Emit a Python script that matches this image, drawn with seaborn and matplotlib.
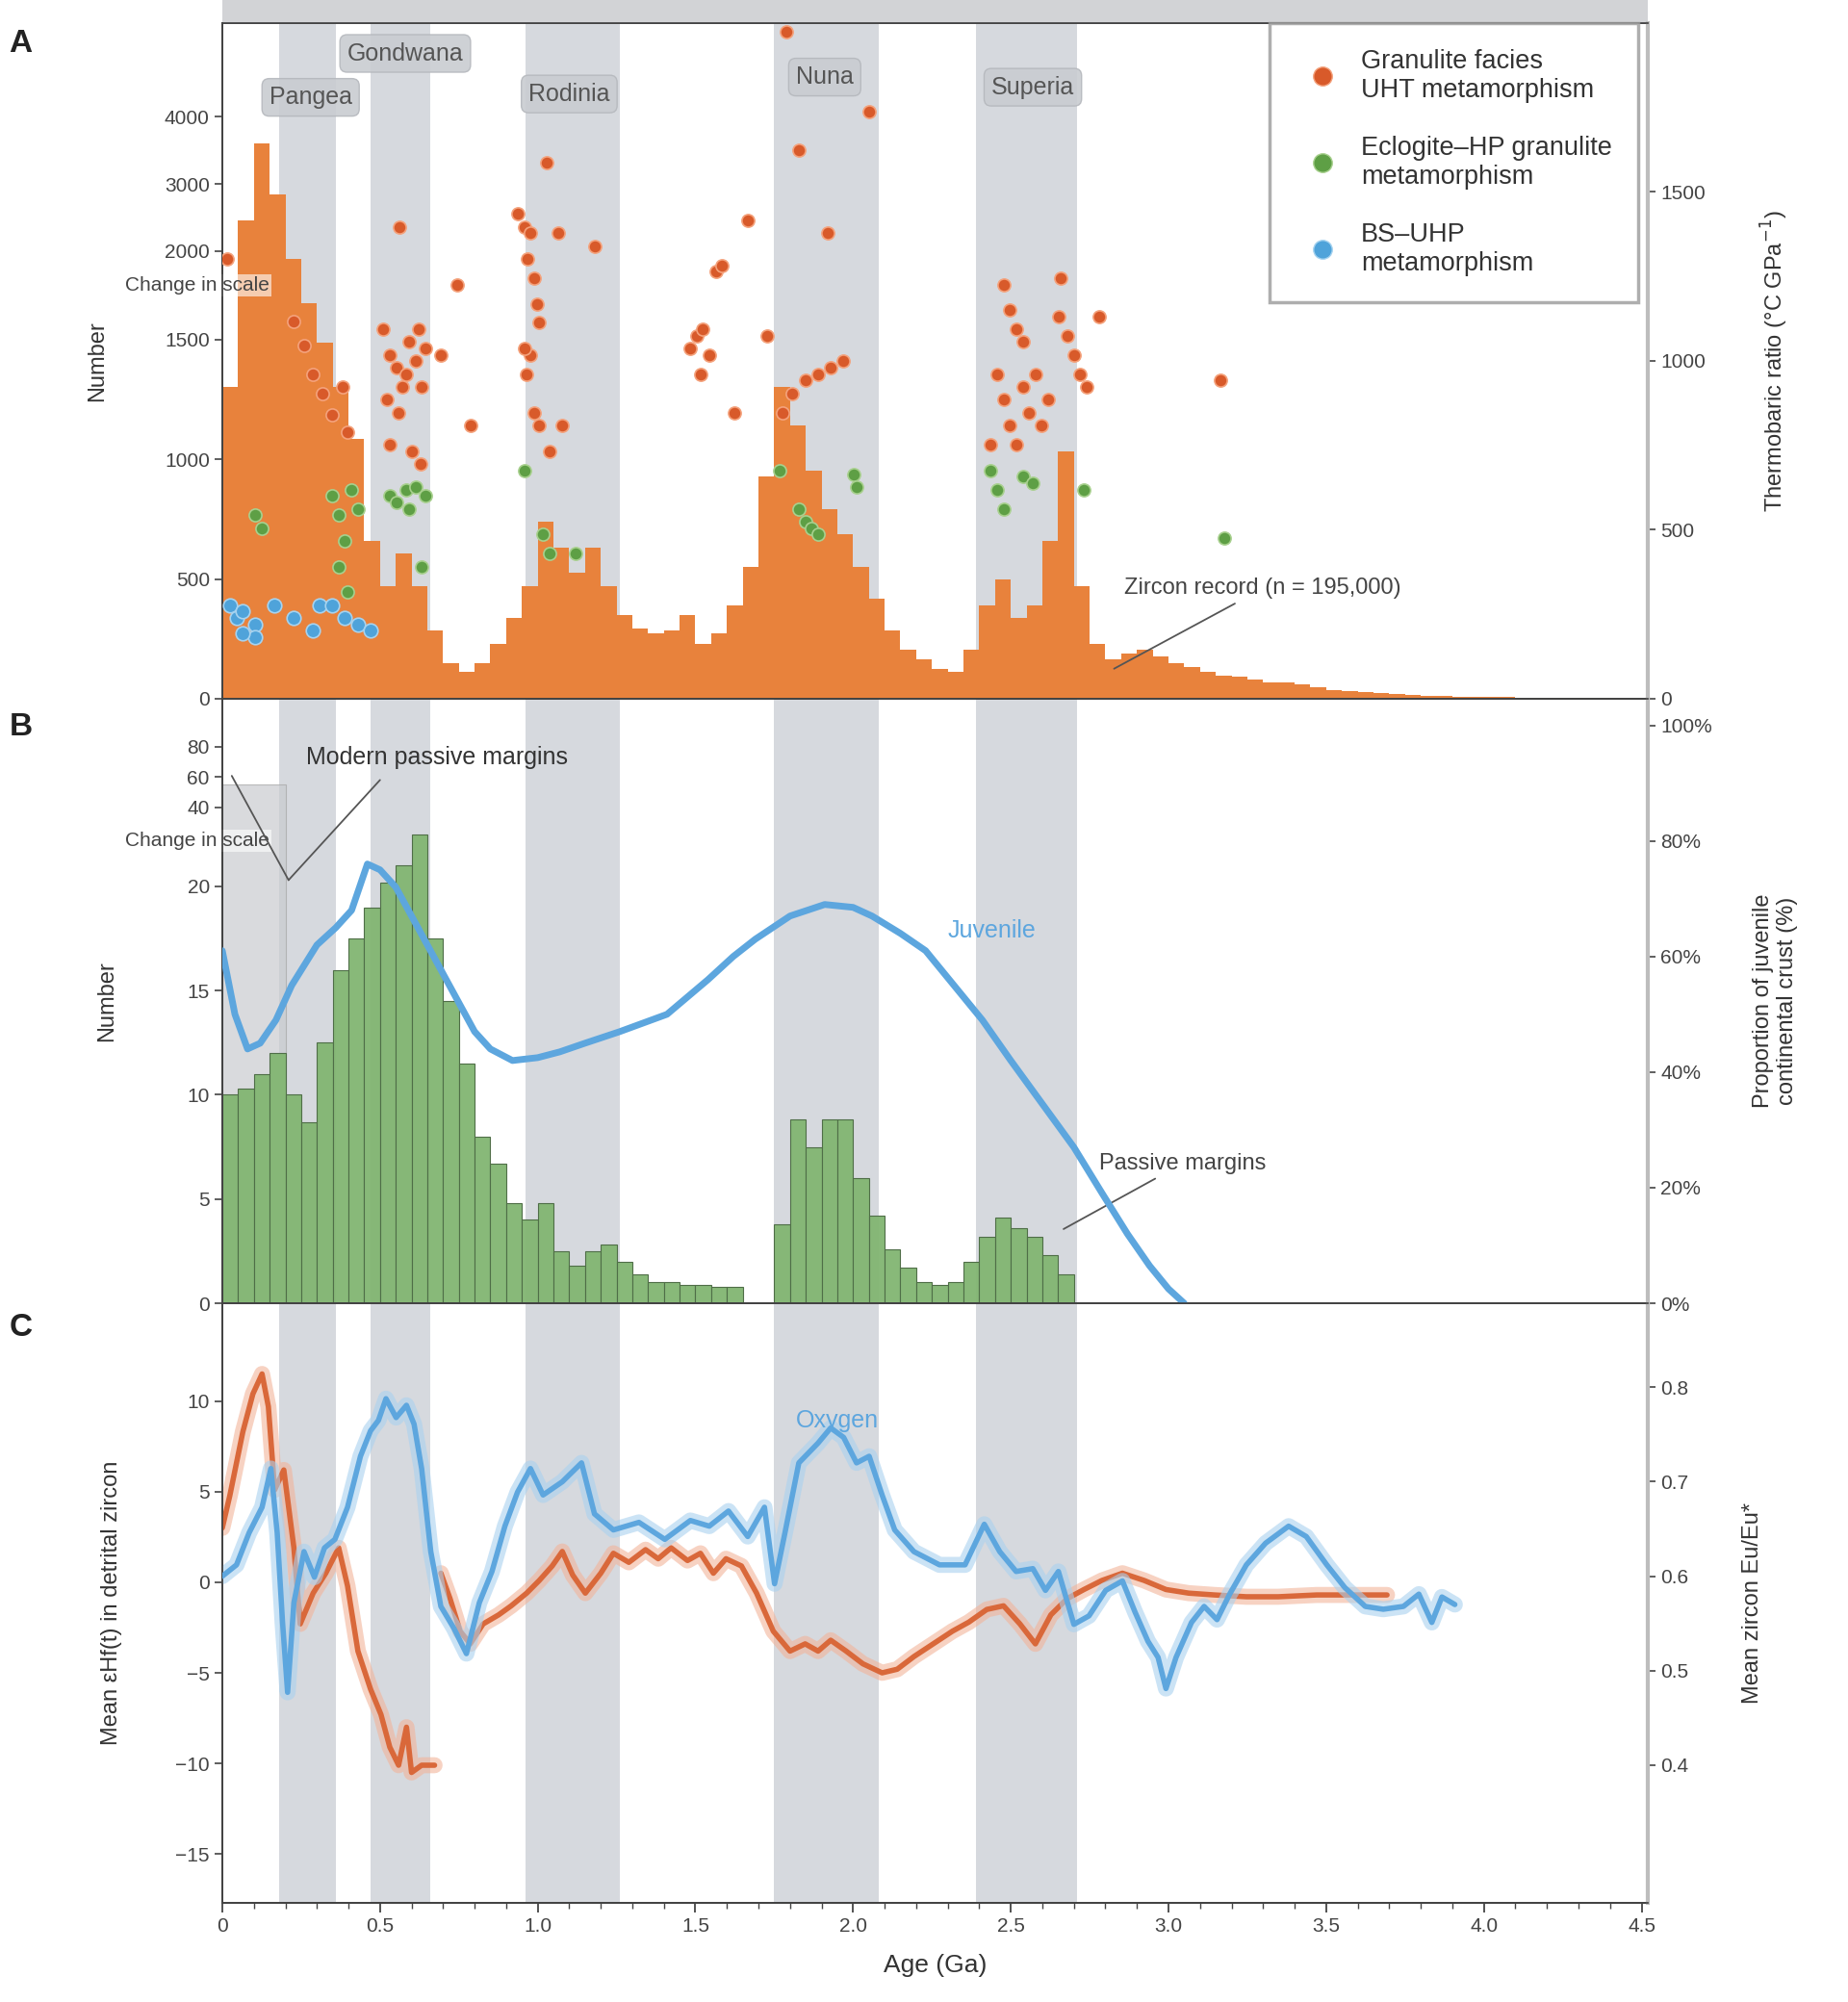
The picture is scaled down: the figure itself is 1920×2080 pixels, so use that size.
import numpy as np
import pandas as pd
import matplotlib
matplotlib.use("Agg")
import matplotlib.pyplot as plt
import seaborn as sns
from matplotlib.lines import Line2D
from matplotlib.ticker import MultipleLocator, FixedLocator, FixedFormatter

# ---------------- DATA ----------------
age_edges_A = np.round(np.arange(0, 4.5001, 0.05), 3)
zircon_counts = [1302, 2457, 3607, 2840, 1955, 1703, 1489, 1302, 1087, 659,
                 471, 605, 471, 284, 150, 112, 150, 230, 337, 471,
                 739, 632, 525, 632, 471, 348, 295, 273, 284, 348,
                 230, 273, 391, 552, 927, 1302, 1141, 954, 793, 686,
                 552, 418, 284, 204, 166, 123, 112, 204, 391, 498,
                 337, 391, 659, 1034, 471, 230, 166, 187, 204, 177,
                 150, 134, 112, 96, 91, 80, 70, 70, 59, 48,
                 37, 32, 27, 22, 18, 15, 12, 10, 9, 8,
                 7, 6, 5, 4, 3, 3, 2, 2, 1, 1]

gran_age = [0.016, 0.227, 0.259, 0.288, 0.316, 0.349, 0.381, 0.397, 0.511, 0.531, 0.551, 0.572,
            0.592, 0.612, 0.632, 0.523, 0.559, 0.584, 0.624, 0.645, 0.531, 0.563, 0.600, 0.628,
            0.693, 0.746, 0.786, 0.936, 0.957, 0.977, 0.969, 0.989, 0.997, 1.005, 0.977, 0.965,
            0.989, 1.005, 1.030, 1.066, 0.957, 1.180, 1.078, 1.038, 1.484, 1.504, 1.524, 1.544,
            1.516, 1.565, 1.585, 1.625, 1.727, 1.666, 1.788, 1.828, 1.921, 2.051, 1.775, 1.808,
            1.848, 1.889, 1.929, 1.970, 2.477, 2.497, 2.517, 2.538, 2.456, 2.477, 2.497, 2.538,
            2.558, 2.578, 2.659, 2.651, 2.679, 2.700, 2.720, 2.740, 2.619, 2.598, 2.781, 2.436,
            2.517, 3.166]
gran_tp = [1302, 1116, 1044, 961, 904, 839, 923, 790, 1094, 1018, 980, 923,
           1056, 999, 923, 885, 847, 961, 1094, 1037, 752, 1397, 733, 695,
           1018, 1226, 809, 1435, 1397, 1378, 1302, 1245, 1169, 1113, 1018, 961,
           847, 809, 1587, 1378, 1037, 1340, 809, 733, 1037, 1075, 1094, 1018,
           961, 1264, 1283, 847, 1075, 1416, 1975, 1625, 1378, 1739, 847, 904,
           942, 961, 980, 999, 1226, 1150, 1094, 1056, 961, 885, 809, 923,
           847, 961, 1245, 1132, 1075, 1018, 961, 923, 885, 809, 1132, 752,
           752, 942]

eclo_age = [0.105, 0.126, 0.349, 0.369, 0.389, 0.409, 0.430, 0.369, 0.397, 0.531, 0.551, 0.584,
            0.612, 0.645, 0.592, 0.632, 0.957, 1.017, 1.038, 1.119, 1.767, 1.828, 1.848, 1.869,
            1.889, 2.002, 2.011, 2.436, 2.456, 2.538, 2.570, 2.477, 2.732, 3.178]
eclo_tp = [543, 505, 600, 543, 467, 619, 562, 391, 315, 600, 581, 619,
           627, 600, 562, 391, 676, 486, 429, 429, 676, 562, 524, 505,
           486, 664, 627, 676, 619, 657, 638, 562, 619, 475]

uhp_age = [0.024, 0.045, 0.065, 0.105, 0.166, 0.227, 0.288, 0.308, 0.349, 0.389, 0.430, 0.470,
           0.105, 0.065]
uhp_tp = [277, 239, 258, 220, 277, 239, 201, 277, 277, 239, 220, 201, 182, 194]

age_edges_B = np.round(np.arange(0, 2.7001, 0.05), 3)
margin_counts = [10.0, 10.3, 11.0, 12.0, 10.0, 8.7, 12.5, 16.0, 17.5, 19.0,
                 20.2, 21.0, 22.5, 17.5, 14.5, 11.5, 8.0, 6.7, 4.8, 4.0,
                 4.8, 2.5, 1.8, 2.5, 2.8, 2.0, 1.4, 1.0, 1.0, 0.9,
                 0.9, 0.8, 0.8, 0.0, 0.0, 3.8, 8.8, 7.5, 8.8, 8.8,
                 6.0, 4.2, 2.6, 1.7, 1.0, 0.9, 1.0, 2.0, 3.2, 4.1,
                 3.6, 3.2, 2.3, 1.4]
modern_bar_height = 24.9

juv_age = [0.0, 0.04, 0.08, 0.12, 0.17, 0.22, 0.30, 0.36, 0.41, 0.46, 0.50, 0.55, 0.60, 0.65,
           0.70, 0.75, 0.80, 0.85, 0.92, 1.00, 1.07, 1.15, 1.26, 1.41, 1.54, 1.62, 1.69, 1.80,
           1.91, 2.00, 2.06, 2.15, 2.23, 2.32, 2.41, 2.50, 2.60, 2.70, 2.79, 2.87, 2.94, 3.00, 3.05]
juv_pct = [61, 50, 44, 45, 49, 55, 62, 65, 68, 76, 75, 72, 67, 62,
           57, 52, 47, 44, 42, 42.5, 43.5, 45, 47, 50, 56, 60, 63, 67,
           69, 68.5, 67, 64, 61, 55, 49, 42, 34.5, 27, 19, 12, 6.5, 2.5, 0]

hf1_age = [0.0, 0.024, 0.065, 0.097, 0.126, 0.146, 0.166, 0.195, 0.227, 0.247, 0.288, 0.328,
           0.369, 0.397, 0.430, 0.470, 0.503, 0.531, 0.559, 0.584, 0.600, 0.632, 0.673]
hf1_val = [3.0, 4.8, 8.3, 10.4, 11.5, 9.7, 5.1, 6.2, 1.9, -2.3, -0.6, 0.5,
           1.9, -0.2, -3.8, -5.9, -7.3, -9.1, -10.1, -8.0, -10.5, -10.1, -10.1]
hf2_age = [0.693, 0.722, 0.754, 0.786, 0.827, 0.876, 0.916, 0.965, 1.005, 1.046, 1.078, 1.111,
           1.151, 1.200, 1.240, 1.289, 1.342, 1.382, 1.423, 1.475, 1.516, 1.557, 1.597, 1.646,
           1.694, 1.747, 1.800, 1.848, 1.889, 1.929, 1.978, 2.031, 2.092, 2.140, 2.193, 2.254,
           2.315, 2.367, 2.424, 2.477, 2.529, 2.578, 2.627, 2.679, 2.732, 2.789, 2.854, 2.923,
           2.992, 3.064, 3.146, 3.247, 3.348, 3.470, 3.591, 3.693]
hf2_val = [0.5, -0.9, -2.7, -3.4, -2.3, -1.8, -1.3, -0.6, 0.1, 0.9, 1.7, 0.4,
           -0.6, 0.5, 1.6, 1.1, 1.8, 1.3, 1.9, 1.2, 1.6, 0.5, 1.3, 0.9,
           -0.6, -2.7, -3.8, -3.4, -3.8, -3.2, -3.8, -4.5, -5.0, -4.8, -4.1, -3.4,
           -2.7, -2.2, -1.5, -1.3, -2.3, -3.4, -1.8, -0.9, -0.4, 0.1, 0.5, 0.1,
           -0.4, -0.6, -0.7, -0.8, -0.8, -0.7, -0.7, -0.7]

ox_age = [0.0, 0.045, 0.085, 0.126, 0.154, 0.174, 0.191, 0.207, 0.227, 0.259, 0.292, 0.324,
          0.357, 0.397, 0.438, 0.470, 0.495, 0.519, 0.551, 0.584, 0.608, 0.632, 0.661, 0.693,
          0.734, 0.774, 0.815, 0.855, 0.896, 0.936, 0.977, 1.017, 1.078, 1.139, 1.180, 1.240,
          1.321, 1.403, 1.484, 1.544, 1.605, 1.666, 1.719, 1.751, 1.784, 1.828, 1.889, 1.929,
          1.970, 2.011, 2.051, 2.092, 2.132, 2.193, 2.274, 2.355, 2.416, 2.465, 2.517, 2.570,
          2.610, 2.651, 2.700, 2.748, 2.801, 2.854, 2.894, 2.935, 2.967, 2.992, 3.024, 3.073,
          3.113, 3.154, 3.194, 3.247, 3.308, 3.381, 3.437, 3.502, 3.559, 3.624, 3.681, 3.745,
          3.794, 3.835, 3.867, 3.908]
ox_val = [0.600, 0.612, 0.646, 0.673, 0.714, 0.646, 0.551, 0.477, 0.572, 0.626, 0.599, 0.630,
          0.639, 0.673, 0.727, 0.754, 0.765, 0.788, 0.768, 0.781, 0.761, 0.714, 0.626, 0.568,
          0.545, 0.518, 0.572, 0.605, 0.653, 0.689, 0.714, 0.686, 0.700, 0.720, 0.666, 0.649,
          0.657, 0.639, 0.659, 0.653, 0.669, 0.642, 0.673, 0.592, 0.646, 0.720, 0.741, 0.757,
          0.747, 0.720, 0.727, 0.686, 0.649, 0.626, 0.612, 0.612, 0.655, 0.626, 0.605, 0.608,
          0.585, 0.605, 0.549, 0.558, 0.585, 0.595, 0.562, 0.531, 0.514, 0.481, 0.514, 0.551,
          0.568, 0.554, 0.581, 0.612, 0.635, 0.653, 0.642, 0.612, 0.588, 0.568, 0.565, 0.568,
          0.581, 0.551, 0.578, 0.570]

bands = [(0.18, 0.36), (0.47, 0.66), (0.96, 1.26), (1.75, 2.08), (2.39, 2.71)]
sc_names = ["Pangea", "Gondwana", "Rodinia", "Nuna", "Superia"]
sc_x = [0.28, 0.58, 1.10, 1.91, 2.57]
sc_yfrac = [0.89, 0.955, 0.895, 0.92, 0.905]

xtick_vals = [0, 0.5, 1.0, 1.5, 2.0, 2.5, 3.0, 3.5, 4.0, 4.5]
xtick_labels = ["0", "0.5", "1.0", "1.5", "2.0", "2.5", "3.0", "3.5", "4.0", "4.5"]
A_left_ticks = [0, 500, 1000, 1500, 2000, 3000, 4000]
A_right_ticks = [0, 500, 1000, 1500]
B_left_ticks = [0, 5, 10, 15, 20, 40, 60, 80]
B_right_ticks = [0, 20, 40, 60, 80, 100]
C_left_ticks = [-15, -10, -5, 0, 5, 10]
C_right_ticks = [0.4, 0.5, 0.6, 0.7, 0.8]

# ---------------- STYLE ----------------
sns.set_theme(style="white")
plt.rcParams['font.family'] = ['Liberation Sans', 'DejaVu Sans']
plt.rcParams['axes.edgecolor'] = '#444444'
plt.rcParams['xtick.color'] = '#444444'
plt.rcParams['ytick.color'] = '#444444'
plt.rcParams['text.color'] = '#333333'
plt.rcParams['axes.labelcolor'] = '#333333'

ORANGE = '#E8823C'
RED = '#D85A2A'
GREEN = '#5E9F45'
GBAR = '#82B672'
BLUE = '#4FA3DA'
BLINE = '#5DA6DE'
OLINE = '#D9683A'
BAND = '#D6D9DE'
TS = 15


def tfA(c):
    c = np.asarray(c, dtype=float)
    return np.where(c <= 1500, c,
                    np.where(c <= 2000, 1500 + (c - 1500) * 0.74, 1870 + (c - 2000) * 0.28))


def tfB(c):
    c = np.asarray(c, dtype=float)
    return np.where(c <= 23, c, 23.8 + (c - 40) * 0.0725)


fig = plt.figure(figsize=(19.2, 20.8), dpi=100)
L, W = 0.1203, 0.7714
axA = fig.add_axes([L, 0.651, W, 0.3375])
axB = fig.add_axes([L, 0.349, W, 0.302])
axC = fig.add_axes([L, 0.0495, W, 0.2995])
axTop = fig.add_axes([L, 1 - 24 / 2080, W, 24 / 2080])
axTop.set_facecolor('#d2d3d6')
axTop.set_xticks([]); axTop.set_yticks([])
for s in axTop.spines.values():
    s.set_visible(False)

for ax in (axA, axB, axC):
    for a, b in bands:
        ax.axvspan(a, b, color=BAND, zorder=0, lw=0)
    ax.tick_params(axis='x', which='major', length=7, width=1.3, direction='out', bottom=True, labelsize=TS)
    ax.tick_params(axis='x', which='minor', length=4, width=1, direction='out', bottom=True)
    ax.tick_params(axis='y', which='major', length=6, width=1.2, left=True, labelsize=TS)
    for s in ax.spines.values():
        s.set_linewidth(1.4)

# ---------------- PANEL A ----------------
dfA = pd.DataFrame({"age": (age_edges_A[:-1] + age_edges_A[1:]) / 2,
                    "n": tfA(zircon_counts)})
sns.histplot(data=dfA, x="age", weights="n", bins=list(age_edges_A), element='step',
             fill=True, color=ORANGE, alpha=1.0, linewidth=0, ax=axA, zorder=2)
axA.set_ylim(0, 2822)
axA.yaxis.set_major_locator(FixedLocator(list(tfA(A_left_ticks))))
axA.yaxis.set_major_formatter(FixedFormatter([str(v) for v in A_left_ticks]))
axA.set_ylabel("Number", fontsize=17, labelpad=42)
axA.set_xlabel("")
axA.text(-0.068, 1725, "Change in scale", transform=axA.get_yaxis_transform(),
         ha='left', va='center', fontsize=TS, color='#444444', zorder=6,
         bbox=dict(boxstyle='square,pad=0.1', fc='white', ec='none', alpha=0.6))

axAr = axA.twinx()
sns.scatterplot(x=gran_age, y=gran_tp, ax=axAr, color=RED, s=90, edgecolor='#F4A27C',
                linewidth=1.2, legend=False, zorder=4)
sns.scatterplot(x=eclo_age, y=eclo_tp, ax=axAr, color=GREEN, s=90, edgecolor='#A8D08E',
                linewidth=1.2, legend=False, zorder=4)
sns.scatterplot(x=uhp_age, y=uhp_tp, ax=axAr, color=BLUE, s=110, edgecolor='#A6D3F0',
                linewidth=1.2, legend=False, zorder=4)
axAr.set_ylim(0, 2000)
axAr.yaxis.set_major_locator(FixedLocator(A_right_ticks))
axAr.tick_params(axis='y', length=6, width=1.2, right=True, labelsize=TS)
axAr.set_ylabel("Thermobaric ratio (°C GPa$^{-1}$)", fontsize=17, labelpad=40)
axAr.spines['right'].set_color('#bdbdbd'); axAr.spines['right'].set_linewidth(3)

for name, x, yf in zip(sc_names, sc_x, sc_yfrac):
    axAr.text(x, yf, name, transform=axAr.get_xaxis_transform(), ha='center', va='center',
              fontsize=18, color='#555555', zorder=7,
              bbox=dict(boxstyle='round,pad=0.3', fc='#c9ccd1', ec='#b5b8bd', alpha=0.9))

handles = [Line2D([], [], marker='o', ls='', color=RED, mec='#F4A27C', ms=14),
           Line2D([], [], marker='o', ls='', color=GREEN, mec='#A8D08E', ms=14),
           Line2D([], [], marker='o', ls='', color=BLUE, mec='#A6D3F0', ms=14)]
labels = ["Granulite facies\nUHT metamorphism", "Eclogite–HP granulite\nmetamorphism",
          "BS–UHP\nmetamorphism"]
leg = axAr.legend(handles, labels, loc='upper right', bbox_to_anchor=(0.997, 1.008), fontsize=19.5,
                  frameon=True, fancybox=False, edgecolor='#9a9a9a', borderpad=1.0,
                  labelspacing=1.25, handletextpad=0.5, borderaxespad=0.2)
leg.get_frame().set_linewidth(2.5)
leg.set_zorder(10)

axA.annotate("Zircon record (n = 195,000)", xy=(2.82, 120), xytext=(2.86, 460),
             fontsize=17, color='#444444', ha='left', va='center',
             arrowprops=dict(arrowstyle='-', color='#555555', lw=1.3))

# ---------------- PANEL B ----------------
dfB = pd.DataFrame({"age": (age_edges_B[:-1] + age_edges_B[1:]) / 2,
                    "n": tfB(margin_counts)})
axB.bar([0.1], [modern_bar_height], width=0.2, color='#c9cbcf', edgecolor='#a5a5a5',
        lw=0.8, zorder=1, alpha=0.7)
sns.histplot(data=dfB, x="age", weights="n", bins=list(age_edges_B), element='bars',
             fill=True, color=GBAR, alpha=0.95, edgecolor='#4f6e47', linewidth=0.8, ax=axB, zorder=2)
axB.set_ylim(0, 29.0)
axB.yaxis.set_major_locator(FixedLocator(list(tfB(B_left_ticks))))
axB.yaxis.set_major_formatter(FixedFormatter([str(v) for v in B_left_ticks]))
axB.set_ylabel("Number", fontsize=17, labelpad=52)
axB.set_xlabel("")
axB.text(-0.068, 22.2, "Change in scale", transform=axB.get_yaxis_transform(),
         ha='left', va='center', fontsize=TS, color='#444444', zorder=6,
         bbox=dict(boxstyle='square,pad=0.1', fc='white', ec='none', alpha=0.6))
axB.text(0.68, 26.2, "Modern passive margins", ha='center', va='center', fontsize=18,
         color='#333333', zorder=6)
axB.plot([0.03, 0.21], [25.3, 20.3], color='#555555', lw=1.3, zorder=6)
axB.plot([0.50, 0.21], [25.1, 20.3], color='#555555', lw=1.3, zorder=6)
axB.annotate("Passive margins", xy=(2.66, 3.5), xytext=(2.78, 6.7), fontsize=17,
             color='#444444', ha='left', va='center',
             arrowprops=dict(arrowstyle='-', color='#555555', lw=1.3))

axBr = axB.twinx()
sns.lineplot(x=juv_age, y=juv_pct, ax=axBr, color=BLINE, lw=5, estimator=None, sort=False, zorder=4)
axBr.set_ylim(0, 104.6)
axBr.yaxis.set_major_locator(FixedLocator(B_right_ticks))
axBr.yaxis.set_major_formatter(FixedFormatter([f"{v}%" for v in B_right_ticks]))
axBr.tick_params(axis='y', length=6, width=1.2, right=True, labelsize=TS)
axBr.set_ylabel("Proportion of juvenile\ncontinental crust (%)", fontsize=17, labelpad=30)
axBr.spines['right'].set_color('#bdbdbd'); axBr.spines['right'].set_linewidth(3)
axBr.text(2.30, 64.5, "Juvenile", color=BLINE, fontsize=18, ha='left', va='center')

# ---------------- PANEL C ----------------
for xs, ys in ((hf1_age, hf1_val), (hf2_age, hf2_val)):
    sns.lineplot(x=xs, y=ys, ax=axC, color='#F2B49A', lw=12, alpha=0.6,
                 estimator=None, sort=False, zorder=2)
    sns.lineplot(x=xs, y=ys, ax=axC, color=OLINE, lw=4, estimator=None, sort=False, zorder=3)
axC.set_ylim(-17.7, 15.4)
axC.yaxis.set_major_locator(FixedLocator(C_left_ticks))
axC.set_ylabel("Mean εHf(t) in detrital zircon", fontsize=17, labelpad=40)
axC.set_xlabel("Age (Ga)", fontsize=19, labelpad=14)

axCr = axC.twinx()
sns.lineplot(x=ox_age, y=ox_val, ax=axCr, color='#A9D1EF', lw=12, alpha=0.6,
             estimator=None, sort=False, zorder=2)
sns.lineplot(x=ox_age, y=ox_val, ax=axCr, color=BLINE, lw=4, estimator=None, sort=False, zorder=3)
axCr.set_ylim(0.6 - 0.346, 0.6 + 0.289)
axCr.yaxis.set_major_locator(FixedLocator(C_right_ticks))
axCr.yaxis.set_major_formatter(FixedFormatter([f"{v:.1f}" for v in C_right_ticks]))
axCr.tick_params(axis='y', length=6, width=1.2, right=True, labelsize=TS)
axCr.set_ylabel("Mean zircon Eu/Eu*", fontsize=17, labelpad=40)
axCr.spines['right'].set_color('#bdbdbd'); axCr.spines['right'].set_linewidth(3)
axCr.text(1.82, 0.765, "Oxygen", color=BLINE, fontsize=18, ha='left', va='center')

for ax in (axA, axB, axC, axAr, axBr, axCr):
    ax.set_xlim(0, 4.52)
    ax.xaxis.set_major_locator(FixedLocator(xtick_vals))
    ax.xaxis.set_minor_locator(MultipleLocator(0.1))
axA.set_xticklabels([]); axB.set_xticklabels([])
axC.xaxis.set_major_formatter(FixedFormatter(xtick_labels))

for txt, yy in (("A", 0.978), ("B", 0.637), ("C", 0.337)):
    fig.text(0.005, yy, txt, fontsize=24, fontweight='bold', color='#222222', ha='left', va='center')

fig.savefig("out.png", dpi=100)
